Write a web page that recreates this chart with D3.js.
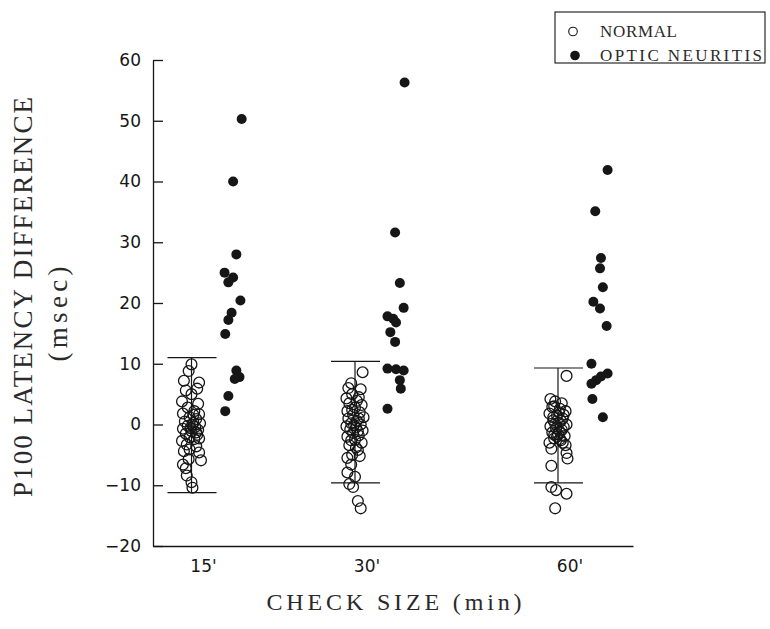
<!DOCTYPE html>
<html><head><meta charset="utf-8">
<script src="https://cdn.jsdelivr.net/npm/d3@7"></script>
<style>html,body{margin:0;padding:0;background:#fff}</style>
</head><body><svg id="chart" width="770" height="629"></svg>
<script>
// ---- data ----
const categories = ["15'", "30'", "60'"];
const yTickValues = [-20, -10, 0, 10, 20, 30, 40, 50, 60];
const seriesNames = ["NORMAL", "OPTIC NEURITIS"];

// [horizontal jitter (-1..1), latency difference msec]
const normal15 = [[0,9.9],[-0.3,8.8],[-0.8,7.2],[0.8,6.9],[-0.6,5.6],[0.6,5.9],[0,5.0],[-1.0,3.8],[0.7,3.4],[-0.4,2.8],[0.3,2.2],[-0.9,1.8],[0.8,1.7],[-0.2,1.2],[0.5,0.9],[-0.7,0.5],[0.2,0.3],[0.9,0.2],[-0.4,-0.2],[0.4,-0.4],[-0.9,-0.7],[0.7,-0.9],[0,-1.1],[-0.6,-1.5],[0.6,-1.7],[-0.2,-2.1],[0.3,-2.4],[-1.0,-2.7],[0.8,-2.3],[-0.5,-3.3],[0.5,-3.6],[-0.2,-4.1],[0.8,-4.6],[-0.8,-4.4],[1.0,-5.9],[-0.3,-5.7],[-0.9,-6.6],[-0.6,-7.2],[-0.5,-8.4],[0,-9.5],[0.1,-10.4],[0.1,0.0],[-0.1,-0.6],[0.2,1.6],[0.5,-1.3]];
const normal30 = [[0.8,8.6],[-0.4,6.8],[-0.7,6.0],[0.6,5.8],[-0.3,5.0],[-0.9,4.3],[0.4,4.5],[-0.6,3.5],[0.7,3.2],[0,2.8],[-0.8,2.2],[0.5,2.0],[-0.2,1.6],[0.9,1.2],[-0.7,1.0],[0.2,0.6],[-0.4,0.2],[0.6,0.0],[-0.9,-0.3],[0.1,-0.5],[-0.5,-0.8],[0.8,-1.0],[-0.2,-1.4],[0.4,-1.8],[-0.8,-2.0],[0,-2.5],[0.7,-3.0],[-0.6,-3.4],[0.3,-4.2],[-0.3,-5.0],[-0.8,-5.5],[0.5,-5.2],[-0.4,-6.6],[-0.8,-7.9],[0,-8.6],[-0.6,-9.8],[-0.2,-10.3],[0.3,-12.6],[0.6,-13.8],[0.2,3.9],[-0.3,2.4],[0.4,1.0],[-0.1,-0.1],[0.3,-1.1],[-0.4,-2.6],[0.1,-3.8]];
const normal60 = [[0.9,8.0],[-0.8,4.2],[-0.3,3.8],[0.4,3.5],[-0.6,2.9],[0.2,2.6],[0.8,2.2],[-0.9,1.8],[-0.1,1.5],[0.5,1.0],[-0.5,0.7],[0.1,0.3],[0.9,0.0],[-0.8,-0.3],[-0.2,-0.6],[0.4,-0.9],[-0.6,-1.3],[0,-1.6],[0.7,-1.9],[-0.4,-2.3],[0.3,-2.6],[-0.9,-3.0],[0.8,-3.4],[-0.7,-4.0],[0.9,-4.7],[1.0,-5.6],[-0.7,-6.8],[-0.7,-10.3],[-0.2,-10.8],[0.9,-11.4],[-0.3,-13.8],[-0.4,3.0],[0.6,1.6],[-0.3,0.1],[0.2,-1.2],[-0.1,-2.0],[0.5,-3.0],[0.1,2.0],[-0.5,1.2],[0.3,0.6],[0.6,-0.4],[-0.4,-1.7],[0.2,-2.4]];

const neuritis15 = [[0.86,50.3],[-0.04,40.0],[0.3,28.0],[-0.94,25.0],[-0.04,24.2],[-0.54,23.4],[0.73,20.4],[-0.2,18.4],[-0.54,17.2],[-0.87,14.9],[0.3,8.9],[0.63,7.8],[0.13,7.5],[-0.54,4.7],[-0.87,2.2]];
const neuritis30 = [[0.8,56.3],[-0.2,31.6],[0.3,23.3],[0.7,19.2],[-1.0,17.8],[-0.4,17.4],[-0.1,16.8],[-0.7,15.2],[-0.2,13.6],[-1.0,9.2],[-0.1,9.1],[0.7,8.9],[0.3,7.3],[0.4,5.9],[-1.0,2.6]];
const neuritis60 = [[0.8,41.9],[-0.5,35.1],[0.1,27.4],[0,25.7],[0.3,22.6],[-0.7,20.2],[0,19.1],[0.7,16.2],[-0.9,10.0],[0.8,8.4],[0.1,7.9],[-0.4,7.3],[-0.9,6.7],[-0.8,4.2],[0.3,1.2]];

// normal-range bars (upper, lower limit)
const rangeUpper = [11.0, 10.4, 9.3];
const rangeLower = [-11.2, -9.6, -9.6];

// ---- drawing ----
const normalSets = [normal15, normal30, normal60];
const neuritisSets = [neuritis15, neuritis30, neuritis60];

const svg = d3.select("#chart");
const y = d3.scaleLinear().domain([-20, 60]).range([546, 60]);
const x = d3.scaleOrdinal().domain(categories).range([191.5, 355, 558]);
const jitter = d3.scaleLinear().domain([-1, 1]).range([-9.5, 9.5]);
const xFrame = d3.scaleLinear().domain([0, 1]).range([153, 633]);
const neuritisShift = 42;
const sans = "DejaVu Sans, Arial, sans-serif";
const serif = "Liberation Serif, Times New Roman, serif";
const ink = "#161616";

// y axis
const yAxis = svg.append("g").attr("transform", "translate(153,0)")
  .call(d3.axisLeft(y).tickValues(yTickValues).tickSizeInner(-10).tickSizeOuter(0).tickPadding(12)
    .tickFormat(d => d < 0 ? "\u2212" + Math.abs(d) : String(d)));
yAxis.selectAll("path,line").attr("stroke", ink).attr("stroke-width", 1.3);
yAxis.selectAll("text").attr("font-family", sans).attr("font-size", 17).attr("fill", ink);

// x axis line
const xAxis = svg.append("g").attr("transform", "translate(0,546)")
  .call(d3.axisBottom(xFrame).ticks(0).tickSizeOuter(0));
xAxis.selectAll("path").attr("stroke", ink).attr("stroke-width", 1.3);

// category labels
svg.append("g").selectAll("text").data(categories).join("text")
  .attr("x", d => x(d) + 12).attr("y", 572)
  .attr("text-anchor", "middle").attr("font-family", sans).attr("font-size", 17).attr("fill", ink)
  .text(d => d);

// range bars
const bars = svg.append("g").attr("stroke", ink).attr("stroke-width", 1.2);
categories.forEach((c, i) => {
  const cx = x(c);
  bars.append("line").attr("x1", cx).attr("x2", cx).attr("y1", y(rangeUpper[i])).attr("y2", y(rangeLower[i]));
  bars.append("line").attr("x1", cx - 24).attr("x2", cx + 25).attr("y1", y(rangeUpper[i])).attr("y2", y(rangeUpper[i]));
  bars.append("line").attr("x1", cx - 24).attr("x2", cx + 25).attr("y1", y(rangeLower[i])).attr("y2", y(rangeLower[i]));
});

// points
categories.forEach((c, i) => {
  const cx = x(c);
  svg.append("g").selectAll("circle").data(normalSets[i]).join("circle")
    .attr("cx", d => cx + jitter(d[0])).attr("cy", d => y(d[1])).attr("r", 5.4)
    .attr("fill", "none").attr("stroke", ink).attr("stroke-width", 1.3);
  svg.append("g").selectAll("circle").data(neuritisSets[i]).join("circle")
    .attr("cx", d => cx + neuritisShift + jitter(d[0])).attr("cy", d => y(d[1])).attr("r", 5)
    .attr("fill", ink).attr("stroke", "none");
});

// axis titles
svg.append("text").attr("transform", "translate(32,297) rotate(-90)")
  .attr("text-anchor", "middle").attr("font-family", serif).attr("font-size", 27).attr("fill", "#2a2a2a")
  .attr("textLength", 400).attr("lengthAdjust", "spacing")
  .text("P100 LATENCY DIFFERENCE");
svg.append("text").attr("transform", "translate(67,314) rotate(-90)")
  .attr("text-anchor", "middle").attr("font-family", serif).attr("font-size", 27).attr("fill", "#2a2a2a")
  .attr("textLength", 95).attr("lengthAdjust", "spacing")
  .text("(msec)");
svg.append("text").attr("x", 394).attr("y", 610)
  .attr("text-anchor", "middle").attr("font-family", serif).attr("font-size", 24).attr("fill", "#2a2a2a")
  .attr("textLength", 255).attr("lengthAdjust", "spacing")
  .text("CHECK SIZE (min)");

// legend
const lg = svg.append("g");
lg.append("rect").attr("x", 555).attr("y", 12).attr("width", 210).attr("height", 51)
  .attr("fill", "#fff").attr("stroke", ink).attr("stroke-width", 1.1);
lg.append("circle").attr("cx", 573).attr("cy", 31.5).attr("r", 4.3).attr("fill", "none").attr("stroke", ink).attr("stroke-width", 1.1);
lg.append("circle").attr("cx", 575).attr("cy", 55.5).attr("r", 4.8).attr("fill", ink);
const lgLens = [77, 162];
lg.selectAll("text").data(seriesNames).join("text")
  .attr("x", 600).attr("y", (d, i) => 37 + i * 24)
  .attr("font-family", serif).attr("font-size", 17).attr("fill", "#2a2a2a")
  .attr("textLength", (d, i) => lgLens[i]).attr("lengthAdjust", "spacing")
  .text(d => d);
</script></body></html>
